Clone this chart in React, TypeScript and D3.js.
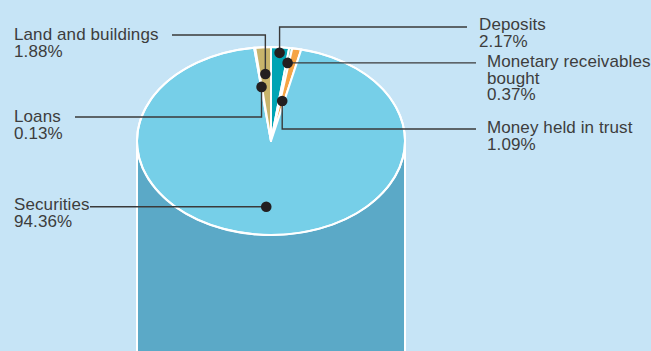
import React from "react";
import * as d3 from "d3";

// Portfolio composition (percent of total)
const categories = [
  "Deposits",
  "Monetary receivables bought",
  "Money held in trust",
  "Securities",
  "Loans",
  "Land and buildings",
];
const shares = [2.17, 0.37, 1.09, 94.36, 0.13, 1.88];
// Category names split into display lines
const nameLines = [
  ["Deposits"],
  ["Monetary receivables", "bought"],
  ["Money held in trust"],
  ["Securities"],
  ["Loans"],
  ["Land and buildings"],
];

const W = 651;
const H = 351;
const cx = 271;
const cy = 141;
const rx = 134;
const ry = 94;

const colors = ["#00a4b4", "#7fcdbb", "#f6a444", "#76cfe8", "#f4f4f4", "#c8b46b"];

// Leader layout per slice: dot radius fraction, elbow y (null = straight),
// line end x, label x, label baseline y
const leaders = [
  { r: 0.94, elbowY: 27, endX: 467, labelX: 479, labelY: 30 },
  { r: 0.84, elbowY: null, endX: 476, labelX: 487, labelY: 67 },
  { r: 0.434, elbowY: 129, endX: 476, labelX: 487, labelY: 133 },
  { r: 0.7, elbowY: null, endX: 90, labelX: 14, labelY: 210 },
  { r: 0.58, elbowY: 117, endX: 75, labelX: 14, labelY: 122 },
  { r: 0.714, elbowY: 35, endX: 172, labelX: 14, labelY: 40 },
];

const fmt = d3.format(".2f");

export default function App() {
  const pie = d3
    .pie<number>()
    .sort(null)
    .value((d) => d)
    .startAngle(0)
    .endAngle(2 * Math.PI);
  const arcs = pie(shares);
  const arc = d3
    .arc<d3.PieArcDatum<number>>()
    .innerRadius(0)
    .outerRadius(rx);

  const lineH = 16.5;

  return (
    <svg
      width={W}
      height={H}
      style={{ position: "absolute", left: 0, top: 0, display: "block" }}
    >
      <rect x={0} y={0} width={W} height={H} fill="#c6e4f6" />
      {/* cylinder body */}
      <rect x={cx - rx} y={cy} width={rx * 2} height={H - cy} fill="#5ba9c7" />
      <line x1={cx - rx} y1={cy} x2={cx - rx} y2={H} stroke="#fff" strokeWidth={2} />
      <line x1={cx + rx} y1={cy} x2={cx + rx} y2={H} stroke="#fff" strokeWidth={2} />
      {/* pie top, drawn as a circle squashed into an ellipse */}
      <g transform={`translate(${cx},${cy}) scale(1,${ry / rx})`}>
        {arcs.map((a, i) => (
          <path
            key={i}
            d={arc(a) || ""}
            fill={colors[i]}
            stroke="#fff"
            strokeWidth={2}
            strokeLinejoin="round"
            vectorEffect="non-scaling-stroke"
          />
        ))}
        <ellipse
          cx={0}
          cy={0}
          rx={rx}
          ry={rx}
          fill="none"
          stroke="#fff"
          strokeWidth={2}
          vectorEffect="non-scaling-stroke"
        />
      </g>
      {/* leaders and labels */}
      {arcs.map((a, i) => {
        const L = leaders[i];
        const mid = (a.startAngle + a.endAngle) / 2;
        const px = cx + L.r * rx * Math.sin(mid);
        const py = cy - L.r * ry * Math.cos(mid);
        const pts =
          L.elbowY == null
            ? [
                [px, py],
                [L.endX, py],
              ]
            : [
                [px, py],
                [px, L.elbowY],
                [L.endX, L.elbowY],
              ];
        const lines = [...nameLines[i], `${fmt(shares[i])}%`];
        return (
          <g key={categories[i]}>
            <path
              d={d3.line()(pts as [number, number][]) || ""}
              fill="none"
              stroke="#3a3a3a"
              strokeWidth={1.4}
            />
            <circle cx={px} cy={py} r={5.3} fill="#231f20" />
            <text
              x={L.labelX}
              y={L.labelY}
              fontFamily="'Liberation Sans', Arial, sans-serif"
              fontSize={17}
              letterSpacing={0.1}
              fill="#3d3d3d"
            >
              {lines.map((t, j) => (
                <tspan key={j} x={L.labelX} dy={j === 0 ? 0 : lineH}>
                  {t}
                </tspan>
              ))}
            </text>
          </g>
        );
      })}
    </svg>
  );
}
